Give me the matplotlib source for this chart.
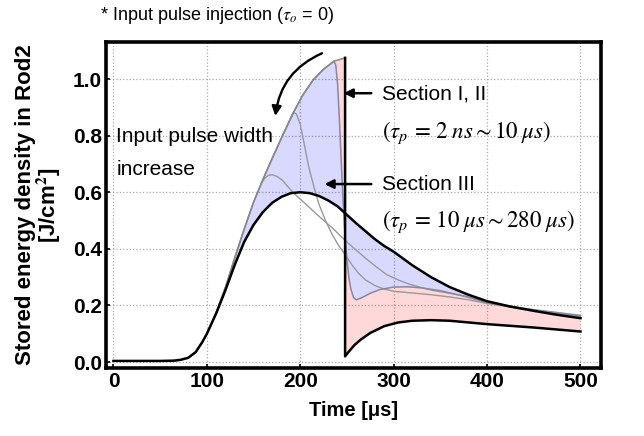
import matplotlib
matplotlib.use('Agg')
import matplotlib.pyplot as plt
from matplotlib.patches import FancyArrowPatch

plt.rcParams['font.family'] = ['Liberation Sans', 'DejaVu Sans']
plt.rcParams['mathtext.fontset'] = 'stix'

# pump-only build-up, shared by every pulse width until the pulse arrives
env_t = [0, 50, 65, 72, 80, 88, 95, 100, 110, 120, 130, 140, 150, 160, 170, 181, 193, 203, 214, 225, 236, 248]
env_v = [0.004, 0.004, 0.005, 0.008, 0.015, 0.035, 0.07, 0.10, 0.175, 0.265, 0.37, 0.47, 0.565,
         0.645, 0.72, 0.80, 0.884, 0.945, 0.998, 1.035, 1.063, 1.075]

# tau_p = 280 us (black)
long_t = [0, 50, 65, 72, 80, 88, 95, 100, 110, 120, 130, 140, 150, 160, 170, 180, 190, 200, 210, 220,
          230, 240, 250, 260, 270, 280, 290, 300, 320, 340, 360, 380, 400, 425, 450, 475, 500]
long_v = [0.004, 0.004, 0.005, 0.008, 0.015, 0.035, 0.07, 0.10, 0.172, 0.255, 0.345, 0.425, 0.485,
          0.53, 0.563, 0.584, 0.597, 0.6, 0.597, 0.587, 0.571, 0.55, 0.52, 0.49, 0.462, 0.434, 0.41,
          0.39, 0.342, 0.3, 0.265, 0.238, 0.215, 0.196, 0.181, 0.167, 0.155]

# tau_p = 10 us (after the envelope peak)
p10_t = [238, 240, 242, 244, 246, 248, 250, 252, 254, 257, 260, 265, 275, 285, 300, 315, 330, 350,
         375, 400, 425, 450, 475, 500]
p10_v = [1.05, 0.98, 0.85, 0.70, 0.56, 0.44, 0.36, 0.30, 0.26, 0.228, 0.22, 0.226, 0.243, 0.256,
         0.265, 0.266, 0.262, 0.252, 0.233, 0.21, 0.196, 0.185, 0.175, 0.165]

# tau_p = 2 ns (after the dump at ~248 us)
p2_t = [248, 252, 258, 265, 275, 290, 305, 320, 340, 360, 380, 400, 450, 500]
p2_v = [0.02, 0.037, 0.06, 0.08, 0.103, 0.127, 0.14, 0.146, 0.148, 0.146, 0.14, 0.134, 0.122, 0.108]

# two intermediate pulse widths (grey)
mid1_t = [186, 190, 193, 196, 200, 204, 209, 215, 220, 227, 234, 241, 248, 255, 262, 270, 280, 290,
          300, 320, 340, 360, 380, 400, 450, 500]
mid1_v = [0.835, 0.865, 0.882, 0.876, 0.84, 0.775, 0.69, 0.615, 0.558, 0.5, 0.452, 0.412, 0.38,
          0.345, 0.315, 0.29, 0.27, 0.258, 0.25, 0.244, 0.238, 0.23, 0.22, 0.207, 0.182, 0.162]
mid2_t = [158, 162, 166, 170, 175, 181, 192, 206, 220, 234, 248, 260, 271, 282, 292, 305, 317, 330,
          342, 360, 378, 400, 450, 500]
mid2_v = [0.63, 0.65, 0.66, 0.662, 0.656, 0.642, 0.6, 0.558, 0.515, 0.475, 0.43, 0.395, 0.364, 0.335,
          0.31, 0.29, 0.275, 0.263, 0.253, 0.243, 0.232, 0.212, 0.184, 0.163]

x_ticks = [0, 100, 200, 300, 400, 500]
y_ticks = [0.0, 0.2, 0.4, 0.6, 0.8, 1.0]

n_env = env_t.index(236) + 1
c10_t = env_t[:n_env] + p10_t
c10_v = env_v[:n_env] + p10_v
c2_t = env_t + p2_t
c2_v = env_v + p2_v

fig = plt.figure(figsize=(6.44, 4.36), dpi=100)
ax = fig.add_axes([106 / 644, 1 - 368 / 436, 495 / 644, 326 / 436])

# shaded sections
ax.fill(c10_t + long_t[::-1], c10_v + long_v[::-1], color='blue', alpha=0.15, lw=0, zorder=1)
ax.fill(c10_t + c2_t[::-1], c10_v + c2_v[::-1], color='red', alpha=0.15, lw=0, zorder=1)

ax.plot(mid1_t, mid1_v, color='#999999', lw=1.0, zorder=3)
ax.plot(mid2_t, mid2_v, color='#999999', lw=1.0, zorder=3)
ax.plot(c10_t, c10_v, color='#8a86a0', lw=1.1, zorder=3)
ax.plot(env_t, env_v, color='#888888', lw=1.1, zorder=3)
ax.plot(long_t, long_v, color='black', lw=1.8, zorder=4)
ax.plot([env_t[-1]] + p2_t, [env_v[-1]] + p2_v, color='black', lw=1.8, zorder=4)

ax.set_xlim(-8, 522)
ax.set_ylim(-0.021, 1.131)
ax.set_xticks(x_ticks)
ax.set_yticks(y_ticks)
ax.set_yticklabels(['%.1f' % v for v in y_ticks])
ax.grid(True, ls=':', color='#aaaaaa', lw=0.9)
ax.set_axisbelow(True)
for s in ax.spines.values():
    s.set_linewidth(2.6)
ax.tick_params(direction='in', length=3, width=1.2, labelsize=15, pad=3)
for lab in ax.get_xticklabels() + ax.get_yticklabels():
    lab.set_fontweight('bold')

ax.set_xlabel('Time [μs]', fontsize=14.5, fontweight='bold', labelpad=7)
ax.set_ylabel('Stored energy density in Rod2\n[J/cm$^\\mathbf{2}$]', fontsize=16,
              fontweight='bold', labelpad=7, linespacing=0.95)

fig.text(100 / 644, 1 - 16 / 436, r'* Input pulse injection ($\tau_o$ = 0)', fontsize=13,
         va='center', ha='left')

ax.text(3, 0.797, 'Input pulse width', fontsize=15, va='center', ha='left')
ax.text(3, 0.68, 'increase', fontsize=15, va='center', ha='left')
ax.text(288, 0.948, 'Section I, II', fontsize=15, va='center', ha='left')
ax.text(288, 0.81, r'$(\tau_p\, =\, 2\; ns \sim 10\; \mu s)$', fontsize=16.5, va='center', ha='left')
ax.text(288, 0.628, 'Section III', fontsize=15, va='center', ha='left')
ax.text(288, 0.495, r'$(\tau_p\, =\, 10\; \mu s \sim 280\; \mu s)$', fontsize=16.5, va='center', ha='left')

ax.annotate('', xy=(243.5, 0.95), xytext=(279, 0.95),
            arrowprops=dict(arrowstyle='-|>', color='black', lw=1.8, mutation_scale=13))
ax.annotate('', xy=(223, 0.629), xytext=(279, 0.629),
            arrowprops=dict(arrowstyle='-|>', color='black', lw=1.8, mutation_scale=13))
arc = FancyArrowPatch((226, 1.095), (173, 0.86), connectionstyle='arc3,rad=0.3',
                      arrowstyle='-|>', color='black', lw=1.7, mutation_scale=14)
ax.add_patch(arc)

fig.savefig('out.png', dpi=100)
